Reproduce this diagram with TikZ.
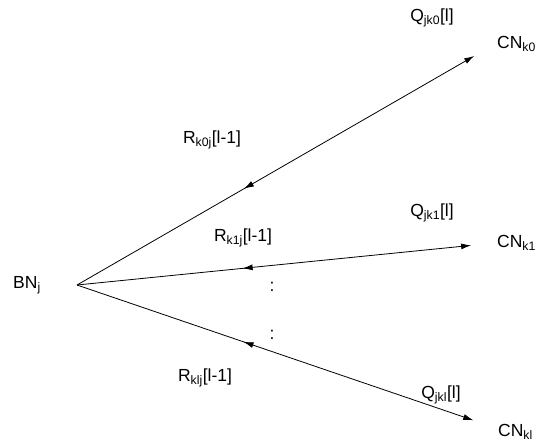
\documentclass[tikz,border=0pt]{standalone}
\usepackage{fontspec}
\setmainfont{Liberation Sans}
\usetikzlibrary{arrows.meta,decorations.markings}

\begin{document}
\begin{tikzpicture}[x=1pt, y=-1pt, >={Latex[length=10pt,width=6pt]},
  every node/.style={font=\fontsize{17.5}{20}\selectfont, inner sep=2pt},
  msg/.style={line width=0.8pt, ->,
    postaction={decorate, decoration={markings, mark=at position 0.42 with {\arrow{<}}}}}]
\clip (0,0) rectangle (537,442);
\useasboundingbox (0,0) rectangle (537,442);
\node[anchor=west] (bn) at (11,285) {BN\textsubscript{j}};
\coordinate (apex) at (77,285);
\node[anchor=west] (cn0) at (495,44) {CN\textsubscript{k0}};
\node[anchor=west] (cn1) at (495,243) {CN\textsubscript{k1}};
\node[anchor=west] (cnl) at (496,432) {CN\textsubscript{kl}};
\draw[msg, shorten >=24pt] (apex) -- (cn0.west);
\draw[msg, shorten >=24pt] (apex) -- (cn1.west);
\draw[msg, shorten >=24pt] (apex) -- ([yshift=4pt]cnl.west);
% message labels
\node (q0) at (432,18) {Q\textsubscript{jk0}[l]};
\node (q1) at (432,213) {Q\textsubscript{jk1}[l]};
\node (ql) at (441,395) {Q\textsubscript{jkl}[l]};
\node (r0) at (212,140) {R\textsubscript{k0j}[l-1]};
\node (r1) at (243,238) {R\textsubscript{k1j}[l-1]};
\node (rl) at (205,378) {R\textsubscript{klj}[l-1]};
% dots
\node (dots1) at (272,287) {:};
\node (dots2) at (272,335) {:};
\end{tikzpicture}
\end{document}
